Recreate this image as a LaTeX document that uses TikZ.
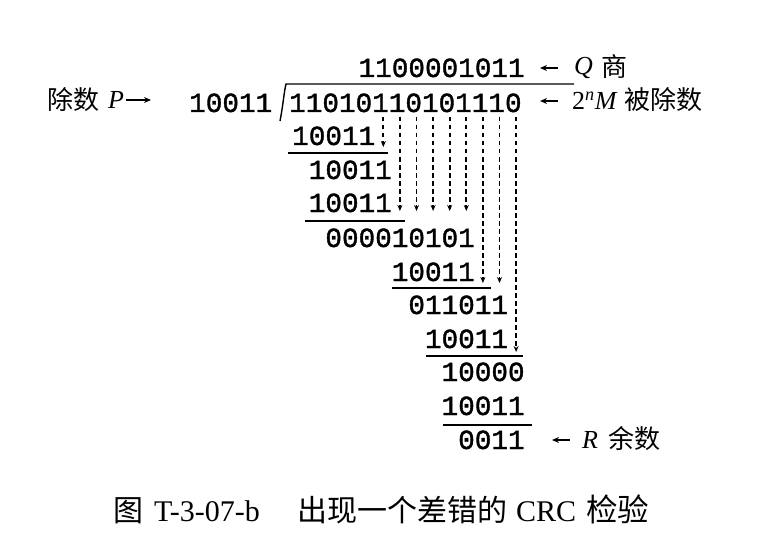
\documentclass[tikz,border=0pt]{standalone}
\usepackage{fontspec}
\setmainfont{Liberation Serif}
\newfontfamily\cjk{Noto Sans CJK SC}
\newfontfamily\digitfont[FakeBold=1.4]{Liberation Mono}
\usetikzlibrary{arrows.meta}
\begin{document}
\begin{tikzpicture}[x=1pt,y=-1pt,
 digs/.style={font=\digitfont\fontsize{27.67}{30}\selectfont, inner sep=0pt, anchor=base west},
 lab/.style={font=\cjk\fontsize{26}{28}\selectfont, inner sep=0pt, anchor=west},
 ital/.style={font=\itshape\fontsize{26}{30}\selectfont, inner sep=0pt, anchor=west},
 capl/.style={font=\fontsize{30}{32}\selectfont, inner sep=0pt, anchor=base west},
 capc/.style={font=\cjk\fontsize{30}{32}\selectfont, inner sep=0pt, anchor=base west},
 rulel/.style={line width=1.4pt},
 dasharrow/.style={line width=1.7pt, dash pattern=on 4.5pt off 3.5pt, -{Stealth[length=6pt,width=5pt]}},
 lbarrow/.style={line width=1.3pt, -{Stealth[length=7pt,width=6pt]}}]
\useasboundingbox (0,0) rectangle (775,548);
% division rows
\node[digs] (q)   at (292+16.6*4, 77)  {1100001011};
\node[digs] (dvd) at (289, 112) {11010110101110};
\node[digs] (r1)  at (292, 145) {10011};
\node[digs] (r2)  at (292+16.6*1, 179) {10011};
\node[digs] (r3)  at (292+16.6*1, 212) {10011};
\node[digs] (r4)  at (292+16.6*2, 247) {000010101};
\node[digs] (r5)  at (292+16.6*6, 281) {10011};
\node[digs] (r6)  at (292+16.6*7, 314) {011011};
\node[digs] (r7)  at (292+16.6*8, 348) {10011};
\node[digs] (r8)  at (292+16.6*9, 381) {10000};
\node[digs] (r9)  at (292+16.6*9, 415) {10011};
\node[digs] (r10) at (292+16.6*10, 449) {0011};
\node[digs] (dvs) at (189, 112) {10011};
% bracket
\draw[rulel] (280,121) .. controls (283,106) and (284,92) .. (286,84) -- (574,84);
% underlines
\draw[rulel] (288,153) -- (388,153);
\draw[rulel] (305,221) -- (405,221);
\draw[rulel] (392,288) -- (491,288);
\draw[rulel] (426,356) -- (523,356);
\draw[rulel] (443,425) -- (532,425);
% dashed arrows
\foreach \c/\e in {5/147,6/211,7/211,8/211,9/211,10/211,11/283,12/283,13/352}{
  \coordinate (s\c) at (292+16.6*\c+8.3, 117);
  \coordinate (e\c) at (292+16.6*\c+8.3, \e);
  \draw[dasharrow] (s\c) -- (e\c);
}
% labels
\node[lab] (chu) at (47,100) {除数};
\node[ital] (P) at (108,100) {P};
\coordinate (pa) at (126,100);
\coordinate (pb) at (151,100);
\draw[lbarrow] (pa) -- (pb);
\coordinate (qa) at (558,68);
\coordinate (qb) at (540,68);
\draw[lbarrow] (qa) -- (qb);
\node[ital] (Q) at (574,68) {Q};
\node[lab] (shang) at (601,67) {商};
\coordinate (ma) at (558,101);
\coordinate (mb) at (540,101);
\draw[lbarrow] (ma) -- (mb);
\node[font=\fontsize{26}{30}\selectfont, inner sep=0pt, anchor=west] (M) at (572,101) {2\textsuperscript{\itshape n}\textit{M}};
\node[lab] (bcs) at (624,100) {被除数};
\coordinate (ra) at (570,440);
\coordinate (rb) at (552,440);
\draw[lbarrow] (ra) -- (rb);
\node[ital] (R) at (582,440) {R};
\node[lab] (ys) at (608,439) {余数};
% caption
\node[capc] (c1) at (113,521) {图};
\node[capl] (c2) at (154,521) {T-3-07-b};
\node[capc] (c3) at (297,521) {出现一个差错的};
\node[capl] (c4) at (516,521) {CRC};
\node[capc, font=\cjk\fontsize{31.5}{32}\selectfont] (c5) at (586,521) {检验};
\end{tikzpicture}
\end{document}
